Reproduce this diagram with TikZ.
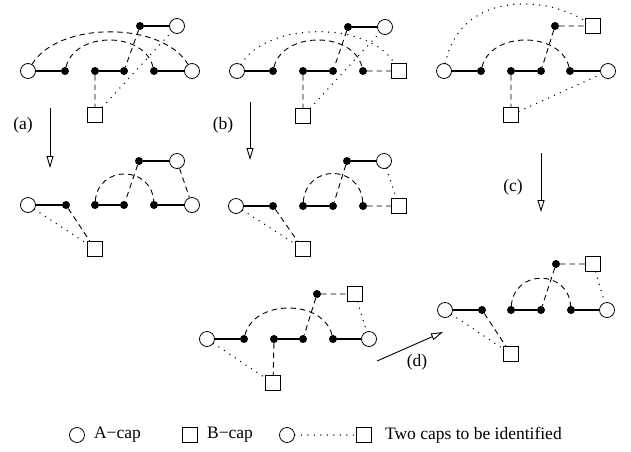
\documentclass[tikz,border=0pt]{standalone}
\usepackage{fontspec}
\setmainfont{Liberation Serif}
\usetikzlibrary{arrows.meta,positioning}

\tikzset{
  acap/.style={circle,draw,line width=0.8pt,minimum size=15pt,inner sep=0pt},
  bcap/.style={rectangle,draw,line width=0.8pt,minimum size=15pt,inner sep=0pt},
  vtx/.style={circle,fill,minimum size=8pt,inner sep=0pt},
  bond/.style={line width=1.3pt},
  dsh/.style={line width=0.9pt,dash pattern=on 5.5pt off 4pt},
  dts/.style={line width=1.5pt,dash pattern=on 0pt off 6.5pt,line cap=round},
  move/.style={line width=0.9pt,-{Triangle[open,length=12pt,width=7pt]}},
  lbl/.style={inner sep=0pt,font=\fontsize{17.5}{20}\selectfont}
}

\begin{document}
\begin{tikzpicture}[x=1pt,y=-1pt]
\useasboundingbox (0,0) rectangle (631,451);

% top left
\node[acap] (p1l) at (28,71) {};
\node[vtx] (p1d1) at (65,71) {};
\node[vtx] (p1d2) at (95,71) {};
\node[vtx] (p1d3) at (124,71) {};
\node[vtx] (p1d4) at (154,71) {};
\node[acap] (p1r) at (192,71) {};
\node[vtx] (p1t) at (140,26) {};
\node[acap] (p1c) at (177,26) {};
\node[bcap] (p1s) at (95,115) {};
\draw[bond] (p1l) -- (p1d1) (p1d2) -- (p1d3) (p1d4) -- (p1r) (p1t) -- (p1c);
\draw[dsh] (p1l) .. controls +(30,-50) and +(-30,-50) .. (p1r);
\draw[dsh] (p1d1) .. controls +(10,-40) and +(-10,-40) .. (p1d4);
\draw[dsh] (p1t) -- (p1d3) (p1d2) -- (p1s);
\draw[dts] (p1s) -- (p1c);

% top middle
\node[acap] (p2l) at (237,71) {};
\node[vtx] (p2d1) at (273,71) {};
\node[vtx] (p2d2) at (303,71) {};
\node[vtx] (p2d3) at (333,71) {};
\node[vtx] (p2d4) at (363,71) {};
\node[bcap] (p2r) at (399,71) {};
\node[vtx] (p2t) at (348,27) {};
\node[acap] (p2c) at (385,27) {};
\node[bcap] (p2s) at (303,116) {};
\draw[bond] (p2l) -- (p2d1) (p2d2) -- (p2d3) (p2t) -- (p2c);
\draw[dsh] (p2d4) -- (p2r) (p2t) -- (p2d3) (p2d2) -- (p2s);
\draw[dsh] (p2d1) .. controls +(10,-40) and +(-10,-40) .. (p2d4);
\draw[dts] (p2l) .. controls +(30,-50) and +(-30,-50) .. (p2r);
\draw[dts] (p2s) -- (p2c);

% top right
\node[acap] (p3l) at (444,71) {};
\node[vtx] (p3d1) at (481,71) {};
\node[vtx] (p3d2) at (511,71) {};
\node[vtx] (p3d3) at (541,71) {};
\node[vtx] (p3d4) at (570,71) {};
\node[acap] (p3r) at (608,71) {};
\node[vtx] (p3t) at (555,26) {};
\node[bcap] (p3c) at (593,26) {};
\node[bcap] (p3s) at (511,115) {};
\draw[bond] (p3l) -- (p3d1) (p3d2) -- (p3d3) (p3d4) -- (p3r);
\draw[dsh] (p3t) -- (p3c) (p3t) -- (p3d3) (p3d2) -- (p3s);
\draw[dsh] (p3d1) .. controls +(10,-40) and +(-10,-40) .. (p3d4);
\draw[dts] (p3l) .. controls +(15,-78) and +(-50,-32) .. (p3c);
\draw[dts] (p3s) -- (p3r);

% middle left
\node[acap] (p4l) at (28,205) {};
\node[vtx] (p4d1) at (66,205) {};
\node[vtx] (p4d2) at (95,205) {};
\node[vtx] (p4d3) at (124,205) {};
\node[vtx] (p4d4) at (154,205) {};
\node[acap] (p4r) at (192,205) {};
\node[vtx] (p4t) at (139,161) {};
\node[acap] (p4c) at (177,161) {};
\node[bcap] (p4s) at (95,249) {};
\draw[bond] (p4l) -- (p4d1) (p4d2) -- (p4d3) (p4d4) -- (p4r) (p4t) -- (p4c);
\draw[dsh] (p4d2) .. controls +(3,-40) and +(-3,-40) .. (p4d4);
\draw[dsh] (p4t) -- (p4d3) (p4c) -- (p4r) (p4d1) -- (p4s);
\draw[dts] (p4l) -- (p4s);

% middle centre
\node[acap] (p5l) at (236,206) {};
\node[vtx] (p5d1) at (273,206) {};
\node[vtx] (p5d2) at (303,206) {};
\node[vtx] (p5d3) at (333,206) {};
\node[vtx] (p5d4) at (363,206) {};
\node[bcap] (p5r) at (399,206) {};
\node[vtx] (p5t) at (347,161) {};
\node[acap] (p5c) at (384,161) {};
\node[bcap] (p5s) at (303,249) {};
\draw[bond] (p5l) -- (p5d1) (p5d2) -- (p5d3) (p5t) -- (p5c);
\draw[dsh] (p5d2) .. controls +(3,-42) and +(-3,-42) .. (p5d4);
\draw[dsh] (p5d4) -- (p5r) (p5t) -- (p5d3) (p5d1) -- (p5s);
\draw[dts] (p5c) -- (p5r) (p5l) -- (p5s);

% bottom right
\node[acap] (p6l) at (445,310) {};
\node[vtx] (p6d1) at (482,310) {};
\node[vtx] (p6d2) at (511,310) {};
\node[vtx] (p6d3) at (541,310) {};
\node[vtx] (p6d4) at (571,310) {};
\node[acap] (p6r) at (607,310) {};
\node[vtx] (p6t) at (556,264) {};
\node[bcap] (p6c) at (593,264) {};
\node[bcap] (p6s) at (511,354) {};
\draw[bond] (p6l) -- (p6d1) (p6d2) -- (p6d3) (p6d4) -- (p6r);
\draw[dsh] (p6t) -- (p6c) (p6t) -- (p6d3) (p6d1) -- (p6s);
\draw[dsh] (p6d2) .. controls +(3,-41) and +(-3,-41) .. (p6d4);
\draw[dts] (p6c) -- (p6r) (p6l) -- (p6s);

% bottom middle
\node[acap] (p7l) at (207,339) {};
\node[vtx] (p7d1) at (244,339) {};
\node[vtx] (p7d2) at (274,339) {};
\node[vtx] (p7d3) at (303,339) {};
\node[vtx] (p7d4) at (333,339) {};
\node[acap] (p7r) at (369,339) {};
\node[vtx] (p7t) at (317,294) {};
\node[bcap] (p7c) at (355,294) {};
\node[bcap] (p7s) at (273,383) {};
\draw[bond] (p7l) -- (p7d1) (p7d2) -- (p7d3) (p7d4) -- (p7r);
\draw[dsh] (p7t) -- (p7c) (p7t) -- (p7d3) (p7d2) -- (p7s);
\draw[dsh] (p7d1) .. controls +(10,-40) and +(-10,-40) .. (p7d4);
\draw[dts] (p7c) -- (p7r) (p7l) -- (p7s);

% moves
\coordinate (ma0) at (50,108);
\coordinate (ma1) at (50,168);
\coordinate (mb0) at (250,102);
\coordinate (mb1) at (250,160);
\coordinate (mc0) at (541,153);
\coordinate (mc1) at (541,212);
\coordinate (md0) at (377,361);
\coordinate (md1) at (443,332);
\draw[move] (ma0) -- (ma1);
\draw[move] (mb0) -- (mb1);
\draw[move] (mc0) -- (mc1);
\draw[move] (md0) -- (md1);
\node[lbl] (la) at (23,125) {(a)};
\node[lbl] (lb) at (223,125) {(b)};
\node[lbl] (lc) at (513,187) {(c)};
\node[lbl] (ld) at (417,362) {(d)};

% legend
\node[acap] (ka) at (77,435) {};
\node[lbl,right=9pt of ka] (kat) {A−cap};
\node[bcap] (kb) at (190,435) {};
\node[lbl,right=9pt of kb] (kbt) {B−cap};
\node[acap] (kc) at (287,435) {};
\node[bcap] (kd) at (364,435) {};
\draw[dts] (kc) -- (kd);
\node[lbl,right=13pt of kd] (kdt) {Two caps to be identified};
\end{tikzpicture}
\end{document}
